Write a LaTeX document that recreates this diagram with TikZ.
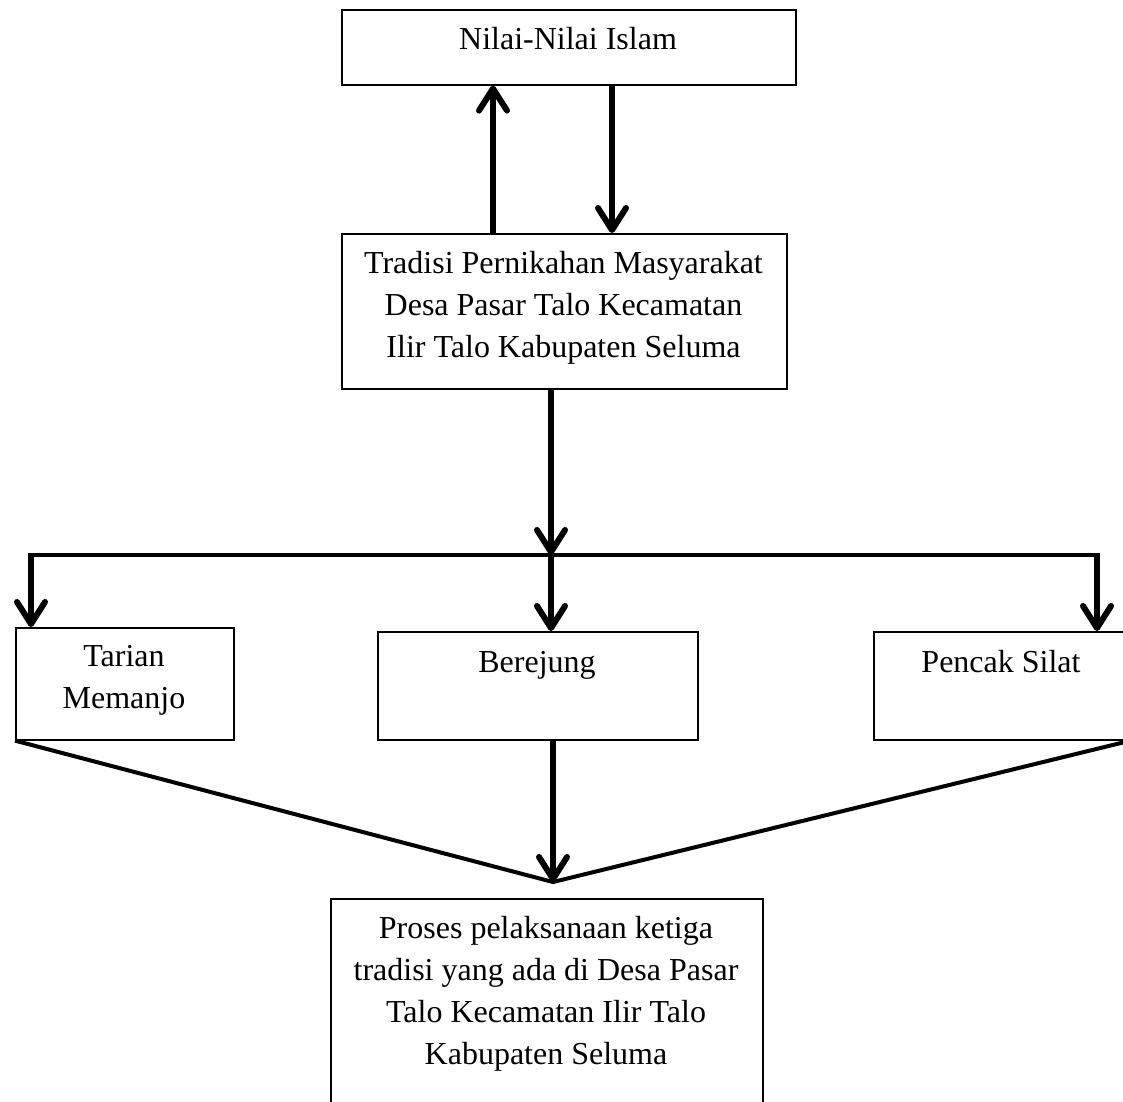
\documentclass[tikz,border=0pt]{standalone}
\usepackage{fontspec}
\setmainfont{Liberation Serif}
\usetikzlibrary{arrows.meta}
\begin{document}
\begin{tikzpicture}[x=1pt,y=-1pt,
  box/.style={draw=black,line width=1.6pt,inner sep=0pt,anchor=north west},
  lbl/.style={font=\fontsize{32}{42}\selectfont,align=center,anchor=base,inner sep=0pt},
  arr/.style={line width=6pt,-{Straight Barb[length=22pt,width=28pt,round]}},
  bus/.style={line width=3.5pt},
  diag/.style={line width=4pt}]
\useasboundingbox (0,0) rectangle (1123,1101);
\clip (0,0) rectangle (1123,1101);
% boxes
\node[box,minimum width=454pt,minimum height=75pt] (nilai) at (341,9) {};
\node[box,minimum width=445pt,minimum height=155pt] (trad) at (341,233) {};
\node[box,minimum width=218pt,minimum height=112pt] (tarian) at (15,627) {};
\node[box,minimum width=320pt,minimum height=108pt] (berejung) at (377,631) {};
\node[box,minimum width=256pt,minimum height=108pt] (pencak) at (873,631) {};
\node[box,minimum width=432pt,minimum height=230pt] (proses) at (330,898) {};
% texts (base anchor = baseline of the last line)
\node[lbl] (tnilai) at (568,49) {Nilai-Nilai Islam};
\node[lbl] (ttrad) at (563.5,357) {Tradisi Pernikahan Masyarakat\\Desa Pasar Talo Kecamatan\\Ilir Talo Kabupaten Seluma};
\node[lbl] (ttarian) at (124,708) {Tarian\\Memanjo};
\node[lbl] (tber) at (537,672) {Berejung};
\node[lbl] (tpen) at (1001,672) {Pencak Silat};
\node[lbl] (tpro) at (546,1064) {Proses pelaksanaan ketiga\\tradisi yang ada di Desa Pasar\\Talo Kecamatan Ilir Talo\\Kabupaten Seluma};
% helper coordinates
\coordinate (xa) at (493,0);
\coordinate (xb) at (612,0);
\coordinate (jl) at (31,555);
\coordinate (jm) at (551,555);
\coordinate (jr) at (1097,555);
\coordinate (meet) at (553,882);
% connectors
\draw[arr] (trad.north -| xa) -- (nilai.south -| xa);
\draw[arr] (nilai.south -| xb) -- (trad.north -| xb);
\draw[arr] (trad.south -| jm) -- (jm);
\draw[bus] (jl) -- (jr);
\draw[arr] ([yshift=1.7pt]jl) -- (tarian.north -| jl);
\draw[arr] (jm) -- (berejung.north -| jm);
\draw[arr] ([yshift=1.7pt]jr) -- (pencak.north -| jr);
\draw[arr] (berejung.south -| meet) -- (meet);
\draw[diag] (tarian.south west) -- (meet) -- (pencak.south east);
\end{tikzpicture}
\end{document}
